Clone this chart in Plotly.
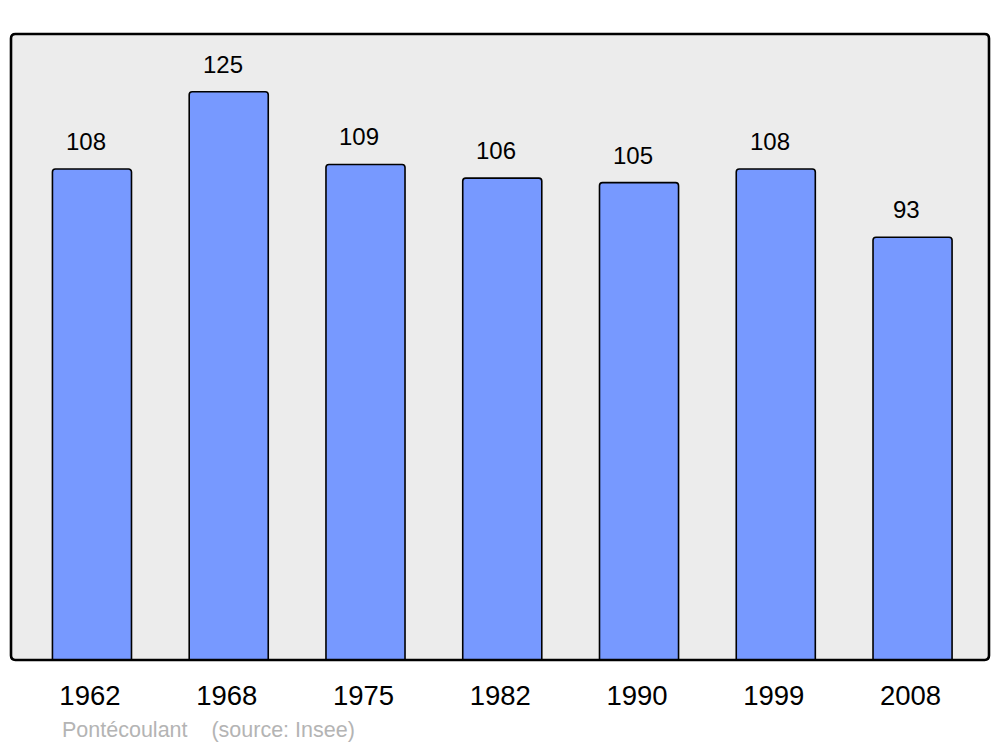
import plotly.graph_objects as go

years = ["1962", "1968", "1975", "1982", "1990", "1999", "2008"]
population = [108, 125, 109, 106, 105, 108, 93]
commune = "Pontécoulant"
source = "(source: Insee)"

pos = list(range(len(years)))

fig = go.Figure()

fig.add_trace(go.Bar(
    x=pos,
    y=population,
    width=0.578,
    marker=dict(color="#7799ff", line=dict(color="black", width=1.6), cornerradius=3),
    hoverinfo="skip",
))

# value labels above bars
for i, v in zip(pos, population):
    fig.add_annotation(
        x=i, y=v, text=str(v), showarrow=False,
        xanchor="center", yanchor="bottom", xshift=-6, yshift=12,
        font=dict(family="Liberation Sans, Arial, sans-serif", size=24, color="black"),
    )

# rounded frame around the plot area
rx, ry = 0.0045, 0.007
frame = (
    f"M {rx},0 L {1-rx},0 Q 1,0 1,{ry} L 1,{1-ry} Q 1,1 {1-rx},1 "
    f"L {rx},1 Q 0,1 0,{1-ry} L 0,{ry} Q 0,0 {rx},0 Z"
)
fig.add_shape(type="path", path=frame, xref="paper", yref="paper",
              line=dict(color="black", width=2.6), layer="above")

# footer (paper coords computed from the pixel layout of the plot area)
fig.add_annotation(
    x=(60 - 11) / 978, y=(660 - 730) / 626, xref="paper", yref="paper",
    text=f"{commune}&nbsp;&nbsp;&nbsp;&nbsp;{source}",
    showarrow=False, xanchor="left", yanchor="middle",
    font=dict(family="Liberation Sans, Arial, sans-serif", size=21.5, color="#b4b4b4"),
)

# page body has an 8px margin, so margins are shifted accordingly
fig.update_layout(
    width=1000, height=747,
    margin=dict(l=3, r=19, t=26, b=95),
    paper_bgcolor="white",
    plot_bgcolor="#ececec",
    showlegend=False,
    font=dict(family="Liberation Sans, Arial, sans-serif"),
    xaxis=dict(
        range=[-0.592, 6.559], tickvals=pos, ticktext=years,
        showgrid=False, zeroline=False, showline=False,
        ticks="outside", ticklen=11, tickcolor="rgba(0,0,0,0)",
        ticklabelshift=-2,
        tickfont=dict(size=27.5, color="black"), fixedrange=True,
    ),
    yaxis=dict(
        range=[0, 137.7], showticklabels=False, showgrid=False,
        zeroline=False, showline=False, fixedrange=True,
    ),
)

fig.write_html("out.html")
